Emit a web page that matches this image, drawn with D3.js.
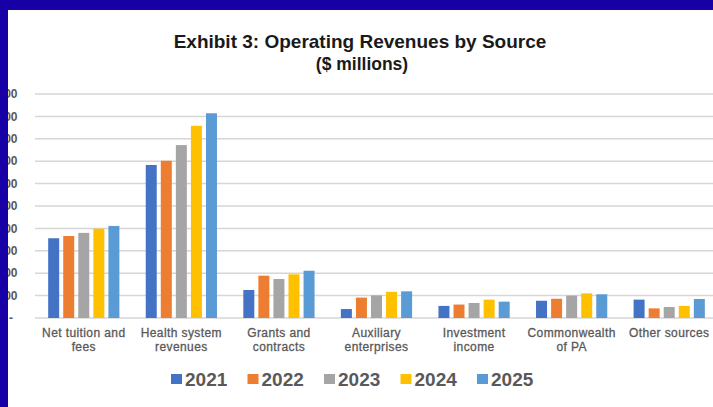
<!DOCTYPE html>
<html>
<head>
<meta charset="utf-8">
<script src="https://cdn.jsdelivr.net/npm/d3@7"></script>
<style>
  html, body { margin: 0; padding: 0; background: #fff; }
  svg { display: block; }
</style>
</head>
<body>
<svg id="chart" width="713" height="407"></svg>
<script>
// Operating revenues by source, $ millions
const categories = [
  ["Net tuition and", "fees"],
  ["Health system", "revenues"],
  ["Grants and", "contracts"],
  ["Auxiliary", "enterprises"],
  ["Investment", "income"],
  ["Commonwealth", "of PA"],
  ["Other sources"]
];
const years = ["2021", "2022", "2023", "2024", "2025"];
const values2021 = [1780, 3415, 625, 200, 270, 385, 410];
const values2022 = [1830, 3510, 945, 455, 300, 430, 215];
const values2023 = [1900, 3860, 870, 505, 335, 500, 245];
const values2024 = [1995, 4290, 975, 585, 410, 550, 270];
const values2025 = [2055, 4570, 1055, 595, 365, 530, 425];
const yTicks = [0, 500, 1000, 1500, 2000, 2500, 3000, 3500, 4000, 4500, 5000];
const colors = ["#4472C4", "#ED7D31", "#A5A5A5", "#FFC000", "#5B9BD5"];

const series = [values2021, values2022, values2023, values2024, values2025];
const rows = categories.map((c, i) => ({
  label: c,
  vals: series.map((s, j) => ({ year: years[j], value: s[i], k: j }))
}));

const svg = d3.select("#chart");
const W = 713, H = 407;

const x0 = d3.scaleBand()
  .domain(d3.range(categories.length))
  .range([35, 718])
  .paddingInner(0.27)
  .paddingOuter(0.135);
const x1 = d3.scaleBand()
  .domain(years)
  .range([0, x0.bandwidth()])
  .paddingInner(0.27);
const y = d3.scaleLinear().domain([0, 5000]).range([318, 94]);

// Gridlines
svg.append("g")
  .selectAll("line")
  .data(yTicks)
  .join("line")
  .attr("x1", 35).attr("x2", W)
  .attr("y1", d => y(d)).attr("y2", d => y(d))
  .attr("stroke", "#d6d6d6")
  .attr("stroke-width", 1.5);

// Y axis labels (accounting style), partly hidden under the frame
const fmt = d3.format(",");
svg.append("g")
  .selectAll("text")
  .data(yTicks)
  .join("text")
  .attr("x", d => d === 0 ? 13 : 17.5)
  .attr("y", d => y(d))
  .attr("dy", "0.35em")
  .attr("text-anchor", "end")
  .attr("font-family", "Liberation Sans, Arial, sans-serif")
  .attr("font-size", 12)
  .attr("font-weight", "bold")
  .attr("fill", "#595959")
  .text(d => d === 0 ? "$ -" : "$" + fmt(d));

// Bars
const groups = svg.append("g")
  .selectAll("g")
  .data(rows)
  .join("g")
  .attr("transform", (d, i) => `translate(${x0(i)},0)`);

groups.selectAll("rect")
  .data(d => d.vals)
  .join("rect")
  .attr("x", d => x1(d.year))
  .attr("width", x1.bandwidth())
  .attr("y", d => y(d.value))
  .attr("height", d => y(0) - y(d.value))
  .attr("fill", d => colors[d.k]);

// Category labels
const catLabels = svg.append("g")
  .selectAll("text")
  .data(rows)
  .join("text")
  .attr("x", (d, i) => x0(i) + x0.bandwidth() / 2)
  .attr("y", 337)
  .attr("text-anchor", "middle")
  .attr("font-family", "Liberation Sans, Arial, sans-serif")
  .attr("font-size", 12)
  .attr("letter-spacing", 0.4)
  .attr("fill", "#595959")
  .attr("stroke", "#595959")
  .attr("stroke-width", 0.3);
catLabels.selectAll("tspan")
  .data(d => d.label)
  .join("tspan")
  .attr("x", function () { return d3.select(this.parentNode).attr("x"); })
  .attr("dy", (d, i) => i === 0 ? 0 : 13.5)
  .text(d => d);

// Title
svg.append("text")
  .attr("x", 360).attr("y", 48)
  .attr("text-anchor", "middle")
  .attr("font-family", "Liberation Sans, Arial, sans-serif")
  .attr("font-size", 19)
  .attr("font-weight", "bold")
  .attr("fill", "#1a1a1a")
  .text("Exhibit 3: Operating Revenues by Source");
svg.append("text")
  .attr("x", 362).attr("y", 70)
  .attr("text-anchor", "middle")
  .attr("font-family", "Liberation Sans, Arial, sans-serif")
  .attr("font-size", 17.5)
  .attr("font-weight", "bold")
  .attr("fill", "#1a1a1a")
  .text("($ millions)");

// Legend
const legend = svg.append("g")
  .selectAll("g")
  .data(years)
  .join("g")
  .attr("transform", (d, i) => `translate(${171 + i * 76.5},0)`);
legend.append("rect")
  .attr("x", 0).attr("y", 374)
  .attr("width", 11).attr("height", 10)
  .attr("fill", (d, i) => colors[i]);
legend.append("text")
  .attr("x", 14).attr("y", 386)
  .attr("font-family", "Liberation Sans, Arial, sans-serif")
  .attr("font-size", 19)
  .attr("font-weight", "bold")
  .attr("fill", "#595959")
  .text(d => d);

// Frame
svg.append("rect").attr("x", 0).attr("y", 0).attr("width", W).attr("height", 10).attr("fill", "#1600a6");
svg.append("rect").attr("x", 0).attr("y", 0).attr("width", 8).attr("height", H).attr("fill", "#1600a6");
</script>
</body>
</html>
